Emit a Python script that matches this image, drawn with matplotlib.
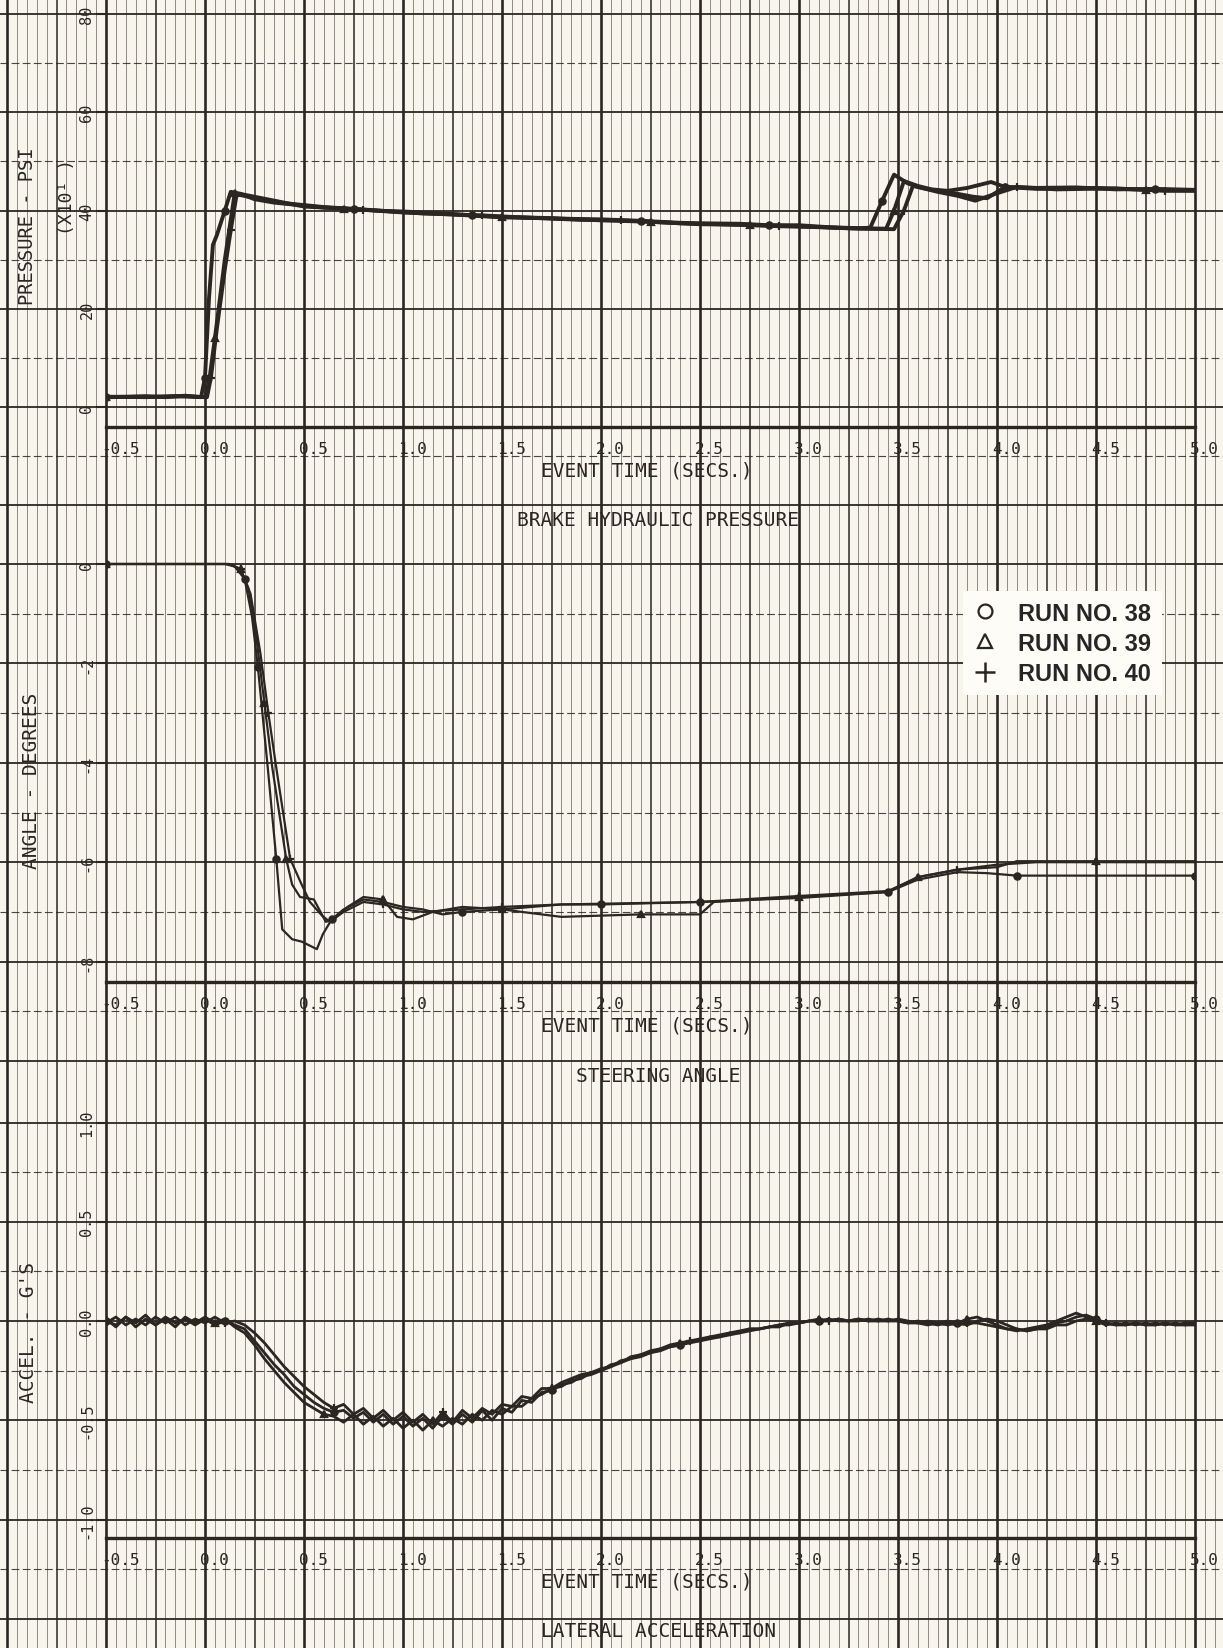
import numpy as np
import matplotlib
matplotlib.use("Agg")
import matplotlib.pyplot as plt
from matplotlib import transforms
from matplotlib.lines import Line2D

# ---------------- data ----------------
runs = ["RUN NO. 38", "RUN NO. 39", "RUN NO. 40"]
run_markers = ["o", "^", "+"]

# brake hydraulic pressure, psi x10
p_t38 = [-0.5, -0.3, -0.2, -0.1, -0.02, 0.0, 0.02, 0.04, 0.06, 0.1, 0.13, 0.18, 0.25, 0.35, 0.5, 0.6,
         0.75, 0.9, 1.0, 1.2, 1.35, 1.5, 1.7, 1.85, 2.0, 2.2, 2.4, 2.5, 2.7, 2.85, 3.0, 3.15, 3.3, 3.36,
         3.42, 3.48, 3.55, 3.62, 3.7, 3.8, 3.88, 3.95, 4.04, 4.2, 4.4, 4.6, 4.8, 5.0]
p_38 = [2.0, 2.2, 2.0, 2.3, 2.0, 6.0, 22.0, 33.0, 35.0, 40.0, 43.8, 43.4, 42.3, 41.6, 41.0, 40.6,
        40.3, 39.9, 39.8, 39.4, 39.0, 38.7, 38.5, 38.3, 38.2, 37.9, 37.5, 37.4, 37.3, 37.0, 37.0, 36.6, 36.4, 36.5,
        42.0, 47.3, 45.5, 44.6, 44.0, 43.4, 42.8, 42.5, 44.8, 44.6, 44.7, 44.3, 44.4, 44.2]
p_t39 = [-0.5, -0.25, -0.1, 0.0, 0.02, 0.05, 0.1, 0.15, 0.2, 0.3, 0.5, 0.7, 1.0, 1.25, 1.5, 1.75, 2.0,
         2.25, 2.5, 2.75, 3.0, 3.25, 3.44, 3.48, 3.53, 3.6, 3.67, 3.75, 3.85, 3.97, 4.04, 4.2, 4.5, 4.75, 5.0]
p_39 = [2.0, 2.1, 2.2, 2.0, 5.0, 14.0, 30.0, 43.5, 43.2, 42.4, 40.8, 40.4, 39.6, 39.2, 38.6, 38.4, 38.0,
        37.7, 37.2, 37.1, 36.8, 36.4, 36.3, 40.0, 46.0, 45.0, 44.3, 44.0, 44.6, 45.8, 44.8, 44.4, 44.6, 44.2, 44.1]
p_t40 = [-0.5, -0.3, -0.15, 0.01, 0.03, 0.06, 0.1, 0.13, 0.16, 0.22, 0.4, 0.6, 0.8, 1.1, 1.4, 1.6, 1.9,
         2.1, 2.4, 2.6, 2.9, 3.1, 3.3, 3.48, 3.53, 3.575, 3.62, 3.7, 3.8, 3.89, 4.0, 4.1, 4.3, 4.6, 4.85, 5.0]
p_40 = [2.1, 2.0, 2.2, 2.0, 6.0, 16.0, 28.0, 36.0, 43.3, 42.8, 41.5, 40.7, 40.2, 39.4, 39.0, 38.6, 38.1,
        38.0, 37.4, 37.2, 36.8, 36.6, 36.3, 36.2, 40.0, 45.0, 44.6, 43.8, 43.0, 42.0, 43.5, 44.8, 44.3, 44.5, 44.0, 44.0]

# steering angle, degrees
s_t38 = [-0.5, -0.2, 0.1, 0.15, 0.2, 0.237, 0.267, 0.317, 0.36, 0.39, 0.44, 0.49, 0.565, 0.595, 0.64, 0.7,
         0.8, 0.9, 1.0, 1.1, 1.2, 1.3, 1.5, 1.8, 2.0, 2.5, 3.0, 3.45, 3.6, 3.8, 3.95, 4.1, 4.5, 5.0]
s_38 = [0.0, 0.0, 0.0, -0.05, -0.3, -1.05, -2.07, -4.1, -5.93, -7.35, -7.55, -7.6, -7.75, -7.45, -7.15, -6.95,
        -6.75, -6.8, -6.9, -6.95, -7.05, -7.0, -6.95, -6.85, -6.85, -6.8, -6.72, -6.6, -6.35, -6.2, -6.22, -6.27, -6.27, -6.27]
s_t39 = [-0.5, 0.12, 0.18, 0.22, 0.26, 0.3, 0.34, 0.41, 0.44, 0.48, 0.55, 0.61, 0.65, 0.72, 0.8, 0.9, 0.97,
         1.05, 1.15, 1.3, 1.5, 1.8, 2.2, 2.5, 2.57, 3.0, 3.45, 3.6, 3.8, 4.0, 4.1, 4.5, 5.0]
s_39 = [0.0, 0.0, -0.1, -0.5, -1.5, -2.8, -4.1, -5.93, -6.45, -6.7, -6.75, -7.2, -7.15, -6.9, -6.7, -6.75, -7.1,
        -7.15, -7.0, -6.9, -6.95, -7.1, -7.05, -7.05, -6.8, -6.7, -6.6, -6.3, -6.15, -6.1, -5.98, -5.98, -5.98]
s_t40 = [-0.5, 0.12, 0.18, 0.23, 0.28, 0.32, 0.36, 0.43, 0.487, 0.53, 0.59, 0.63, 0.7, 0.8, 0.9, 1.0, 1.1,
         1.3, 1.5, 1.8, 2.5, 3.0, 3.45, 3.6, 3.8, 4.0, 4.2, 4.5, 5.0]
s_40 = [0.0, 0.0, -0.1, -0.6, -1.8, -3.0, -4.1, -5.93, -6.44, -6.8, -7.07, -7.2, -7.0, -6.8, -6.85, -6.95, -7.0,
        -6.95, -6.9, -6.85, -6.8, -6.68, -6.58, -6.3, -6.15, -6.05, -6.0, -6.0, -6.0]

# lateral acceleration, g's, sampled every 0.05 s from -0.5 to 5.0
t_acc = np.round(np.arange(-0.5, 5.0001, 0.05), 2)
a_38 = [0.00, -0.02, 0.02, -0.03, 0.01, -0.02, 0.02, -0.01, 0.01, -0.02,
        0.01, -0.02, 0.00, -0.02, -0.04, -0.10, -0.16, -0.22, -0.27, -0.33,
        -0.37, -0.41, -0.44, -0.46, -0.45, -0.49, -0.46, -0.51, -0.47, -0.52,
        -0.48, -0.53, -0.49, -0.54, -0.48, -0.52, -0.47, -0.51, -0.45, -0.50,
        -0.44, -0.46, -0.40, -0.41, -0.36, -0.35, -0.32, -0.31, -0.28, -0.27,
        -0.25, -0.23, -0.21, -0.19, -0.18, -0.16, -0.15, -0.13, -0.12, -0.11,
        -0.10, -0.09, -0.08, -0.07, -0.06, -0.05, -0.04, -0.03, -0.02, -0.01,
        -0.01, 0.00, 0.00, 0.01, 0.00, 0.00, 0.01, 0.00, 0.00, 0.01,
        0.00, -0.01, -0.01, -0.02, -0.01, -0.02, -0.01, -0.02, 0.00, 0.01,
        0.00, -0.02, -0.04, -0.05, -0.04, -0.03, -0.01, 0.00, 0.02, 0.03,
        0.01, -0.01, -0.02, -0.01, -0.02, -0.01, -0.02, -0.01, -0.02, -0.01,
        -0.01]
a_39 = [0.01, -0.03, 0.02, -0.01, 0.03, -0.02, 0.01, -0.03, 0.02, -0.01,
        0.02, -0.01, 0.01, -0.03, -0.06, -0.12, -0.19, -0.25, -0.31, -0.36,
        -0.41, -0.44, -0.47, -0.48, -0.51, -0.47, -0.52, -0.48, -0.53, -0.49,
        -0.54, -0.50, -0.55, -0.50, -0.53, -0.49, -0.52, -0.47, -0.50, -0.45,
        -0.47, -0.43, -0.43, -0.39, -0.37, -0.34, -0.33, -0.30, -0.29, -0.26,
        -0.25, -0.22, -0.21, -0.18, -0.17, -0.15, -0.14, -0.12, -0.11, -0.10,
        -0.09, -0.08, -0.07, -0.06, -0.05, -0.04, -0.04, -0.03, -0.02, -0.02,
        -0.01, 0.00, 0.01, 0.00, 0.01, 0.00, 0.00, 0.01, 0.00, 0.00,
        0.01, 0.00, -0.01, 0.00, -0.01, 0.00, -0.01, 0.01, 0.02, 0.00,
        -0.02, -0.04, -0.05, -0.04, -0.03, -0.02, 0.00, 0.02, 0.04, 0.02,
        0.00, -0.02, -0.01, -0.02, -0.01, -0.02, -0.01, -0.02, -0.01, -0.02,
        -0.01]
a_40 = [-0.01, 0.02, -0.02, 0.01, -0.02, 0.02, -0.01, 0.02, -0.02, 0.01,
        -0.01, 0.02, -0.01, 0.00, -0.02, -0.06, -0.11, -0.17, -0.23, -0.28,
        -0.33, -0.37, -0.41, -0.44, -0.42, -0.47, -0.44, -0.49, -0.45, -0.50,
        -0.46, -0.51, -0.47, -0.52, -0.46, -0.51, -0.45, -0.49, -0.44, -0.47,
        -0.42, -0.43, -0.38, -0.39, -0.34, -0.34, -0.31, -0.29, -0.27, -0.26,
        -0.24, -0.23, -0.20, -0.19, -0.17, -0.16, -0.14, -0.13, -0.12, -0.10,
        -0.10, -0.08, -0.08, -0.06, -0.06, -0.04, -0.04, -0.03, -0.03, -0.01,
        -0.01, 0.00, 0.00, 0.00, 0.01, 0.00, 0.01, 0.00, 0.01, 0.00,
        0.00, -0.01, 0.00, -0.01, -0.02, -0.01, -0.02, -0.01, -0.01, -0.02,
        -0.03, -0.04, -0.04, -0.05, -0.04, -0.04, -0.02, -0.02, 0.00, 0.01,
        0.00, -0.01, -0.02, -0.02, -0.01, -0.02, -0.02, -0.01, -0.02, -0.02,
        -0.02]

x_ticks = [-0.5, 0.0, 0.5, 1.0, 1.5, 2.0, 2.5, 3.0, 3.5, 4.0, 4.5, 5.0]
x_labels = ["-0.5", "0.0", "0.5", "1.0", "1.5", "2.0", "2.5", "3.0", "3.5", "4.0", "4.5", "5.0"]
p_ticks, p_labels = [0, 20, 40, 60, 80], ["0", "20", "40", "60", "80"]
s_ticks, s_labels = [0, -2, -4, -6, -8], ["0", "-2", "-4", "-6", "-8"]
a_ticks, a_labels = [1.0, 0.5, 0.0, -0.5, -1.0], ["1.0", "0.5", "0.0", "-0.5", "-1.0"]

# ---------------- style / layout ----------------
paper = "#f8f6ec"
ink = "#2b2622"
W, H = 1223, 1649
x0, x1 = 106, 1195          # pixel columns of t=-0.5 and t=5.0
pxs = (x1 - x0) / 5.5       # pixels per second

plt.rcParams["font.family"] = ["DejaVu Sans Mono"]
fig = plt.figure(figsize=(W / 100, H / 100), dpi=100, facecolor=paper)

# graph paper vertical rulings (in time units)
bg = fig.add_axes([0, 0, 1, 1])
bg.set_xlim(-0.5 - x0 / pxs, -0.5 + (W - x0) / pxs)
bg.set_ylim(0, 1)
bg.axis("off")
for k in range(-20, 103):
    t = k * 0.05
    if k % 10 == 0:
        bg.axvline(t, color=ink, lw=1.9, zorder=0)
    elif k % 5 == 0:
        bg.axvline(t, color=ink, lw=1.1, zorder=0)
    else:
        bg.axvline(t, color=ink, lw=0.6, alpha=0.6, zorder=0)


def panel(top, bottom, ylim):
    ax = fig.add_axes([x0 / W, 1 - bottom / H, (x1 - x0) / W, (bottom - top) / H])
    ax.patch.set_visible(False)
    ax.set_xlim(-0.5, 5.0)
    ax.set_ylim(*ylim)
    for s in ["top", "left", "right"]:
        ax.spines[s].set_visible(False)
    ax.spines["bottom"].set_linewidth(2.4)
    ax.spines["bottom"].set_color(ink)
    ax.set_xticks([])
    return ax


def hrules(ax, solid, dashed):
    lo, hi = -x0 / (x1 - x0), (W - x0) / (x1 - x0)
    for v in solid:
        ax.axhline(v, xmin=lo, xmax=hi, color=ink, lw=1.3, clip_on=False, zorder=1)
    for v in dashed:
        ax.axhline(v, xmin=lo, xmax=hi, color=ink, lw=0.8, ls=(0, (7, 3)), alpha=0.85,
                   clip_on=False, zorder=1)


def decorate(ax, yt, yl, title):
    ax.set_yticks(yt)
    ax.tick_params(axis="y", length=7, width=1.5, color=ink, labelleft=False)
    ylab = transforms.offset_copy(ax.get_yaxis_transform(), fig=fig, x=-19, y=0, units="dots")
    for v, s in zip(yt, yl):
        ax.text(0, v, s, transform=ylab, rotation=90, ha="center", va="center",
                fontsize=11, color=ink)
    xlab = transforms.offset_copy(ax.get_xaxis_transform(), fig=fig, x=-5, y=-22, units="dots")
    for t, s in zip(x_ticks, x_labels):
        ax.text(t, 0, s, transform=xlab, ha="left", va="center", fontsize=11.5, color=ink)
    mid = transforms.offset_copy(ax.transAxes, fig=fig, x=0, y=-43, units="dots")
    ax.text(0.497, 0, "EVENT TIME (SECS.)", transform=mid, ha="center", va="center",
            fontsize=14, color=ink)
    ttl = transforms.offset_copy(ax.transAxes, fig=fig, x=0, y=-93, units="dots")
    ax.text(0.507, 0, title, transform=ttl, ha="center", va="center", fontsize=14, color=ink)


def draw_runs(ax, series, lw, every):
    for (t, v), m in zip(series, run_markers):
        ax.plot(t, v, color=ink, lw=lw, zorder=4, marker=m, ms=4.5 if m != "+" else 6,
                mfc=ink, mec=ink, mew=1.6, markevery=every)


# ---- pressure ----
ax1 = panel(0, 428, ((408 - 428) / 4.9125, 408 / 4.9125))
hrules(ax1, [80, 60, 40, 20, 0, -20], [70, 50, 30, 10, -10])
decorate(ax1, p_ticks, p_labels, "BRAKE HYDRAULIC PRESSURE")
draw_runs(ax1, [(p_t38, p_38), (p_t39, p_39), (p_t40, p_40)], 2.8, 0.12)

# ---- steering ----
ax2 = panel(530, 983, (-(983 - 565) / 49.7, (565 - 530) / 49.7))
hrules(ax2, [0, -2, -4, -6, -8, -10], [-1, -3, -5, -7, -9])
decorate(ax2, s_ticks, s_labels, "STEERING ANGLE")
draw_runs(ax2, [(s_t38, s_38), (s_t39, s_39), (s_t40, s_40)], 1.6, 0.12)

# ---- lateral acceleration ----
ax3 = panel(1060, 1539, (-(1539 - 1322) / 198.5, (1322 - 1060) / 198.5))
hrules(ax3, [1.0, 0.5, 0.0, -0.5, -1.0, -1.5], [0.75, 0.25, -0.25, -0.75, -1.25])
decorate(ax3, a_ticks, a_labels, "LATERAL ACCELERATION")
draw_runs(ax3, [(t_acc, a_38), (t_acc, a_39), (t_acc, a_40)], 2.0, 0.12)

# axis titles
fig.text(28 / W, 1 - 226 / H, "PRESSURE - PSI", rotation=90, ha="center", va="center",
         fontsize=13.5, color=ink)
fig.text(67 / W, 1 - 197 / H, "(X10¹ )", rotation=90, ha="center", va="center",
         fontsize=13, color=ink)
fig.text(32 / W, 1 - 781 / H, "ANGLE - DEGREES", rotation=90, ha="center", va="center",
         fontsize=14, color=ink)
fig.text(28 / W, 1 - 1333 / H, "ACCEL. - G'S", rotation=90, ha="center", va="center",
         fontsize=14, color=ink)

# legend
handles = [Line2D([], [], ls="none", marker="o", ms=10, mfc="none", mec=ink, mew=1.6),
           Line2D([], [], ls="none", marker="^", ms=10, mfc="none", mec=ink, mew=1.6),
           Line2D([], [], ls="none", marker="+", ms=14, mec=ink, mew=1.8)]
leg = ax2.legend(handles, runs, loc="upper left", bbox_to_anchor=(963 / W, 1 - 592 / H),
                 bbox_transform=fig.transFigure, borderaxespad=0, frameon=True,
                 facecolor="#fdfcf7", edgecolor="none", framealpha=1, fancybox=False,
                 borderpad=0.45, labelspacing=0.3, handletextpad=0.9, handlelength=1.0,
                 prop={"family": "Liberation Sans", "weight": "bold", "size": 17})
leg.set_zorder(10)
for txt in leg.get_texts():
    txt.set_color("#262626")

fig.savefig("out.png", dpi=100, facecolor=paper)
